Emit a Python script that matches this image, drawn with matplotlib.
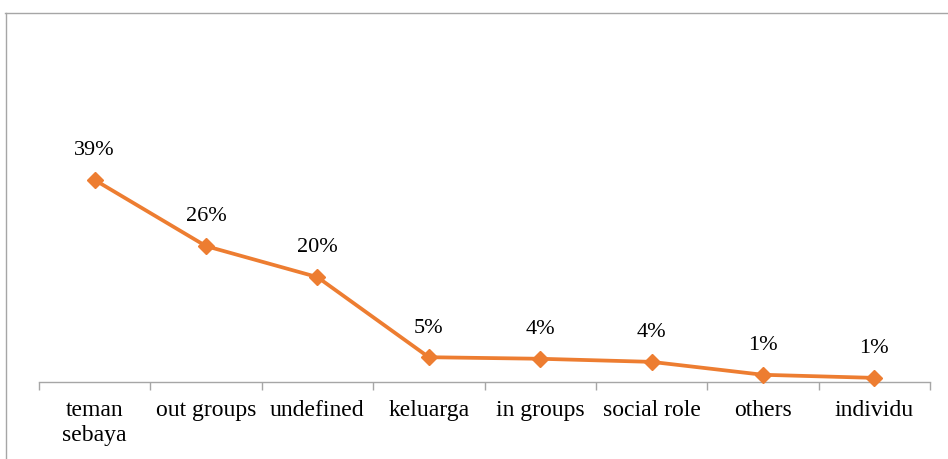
import matplotlib
matplotlib.use("Agg")
import matplotlib.pyplot as plt
from matplotlib.lines import Line2D
from matplotlib.ticker import FixedLocator

categories = ["teman\nsebaya", "out groups", "undefined", "keluarga",
              "in groups", "social role", "others", "individu"]
values = [39.0, 26.2, 20.2, 4.7, 4.4, 3.8, 1.3, 0.7]
labels = ["39%", "26%", "20%", "5%", "4%", "4%", "1%", "1%"]

W, H = 948, 459
fig = plt.figure(figsize=(W / 100, H / 100), dpi=100)
plt.rcParams['font.family'] = ['Liberation Serif', 'DejaVu Serif']

left, right = 39 / W, 930 / W
bottom = 1 - 381.5 / H
ymax = 45.0
top_px = 381.5 - ymax * 5.167
ax = fig.add_axes([left, bottom, right - left, (381.5 - top_px) / H])

x = list(range(len(categories)))
color = "#ED7D31"
ax.plot(x, values, color=color, linewidth=2.7, marker="D", markersize=8.5,
        markerfacecolor=color, markeredgecolor=color, clip_on=False, zorder=3)
for xi, v, lab in zip(x, values, labels):
    ax.annotate(lab, (xi, v), xytext=(0, 21), textcoords="offset points",
                ha="center", va="center", fontsize=16, color="#000000")

ax.set_xlim(-0.5, len(categories) - 0.5)
ax.set_ylim(0, ymax)
for s in ["top", "right", "left"]:
    ax.spines[s].set_visible(False)
ax.spines["bottom"].set_color("#A6A6A6")
ax.spines["bottom"].set_linewidth(1)
ax.set_yticks([])
ax.set_xticks(x)
ax.set_xticklabels(categories, fontsize=17, linespacing=1.3)
ax.tick_params(axis="x", which="major", length=0, pad=13, colors="#000000")
ax.xaxis.set_minor_locator(FixedLocator([i - 0.5 for i in range(len(categories) + 1)]))
ax.tick_params(axis="x", which="minor", length=6, width=1, color="#A6A6A6", direction="out")
for t in ax.get_xticklabels():
    t.set_verticalalignment("top")

# chart-area border (cropped at right/bottom)
fig.add_artist(Line2D([5 / W, 1.0], [1 - 12.5 / H, 1 - 12.5 / H], transform=fig.transFigure,
                      color="#A6A6A6", linewidth=1))
fig.add_artist(Line2D([5.5 / W, 5.5 / W], [0, 1 - 12.5 / H], transform=fig.transFigure,
                      color="#A6A6A6", linewidth=1))

fig.savefig("out.png", dpi=100, facecolor="white")
